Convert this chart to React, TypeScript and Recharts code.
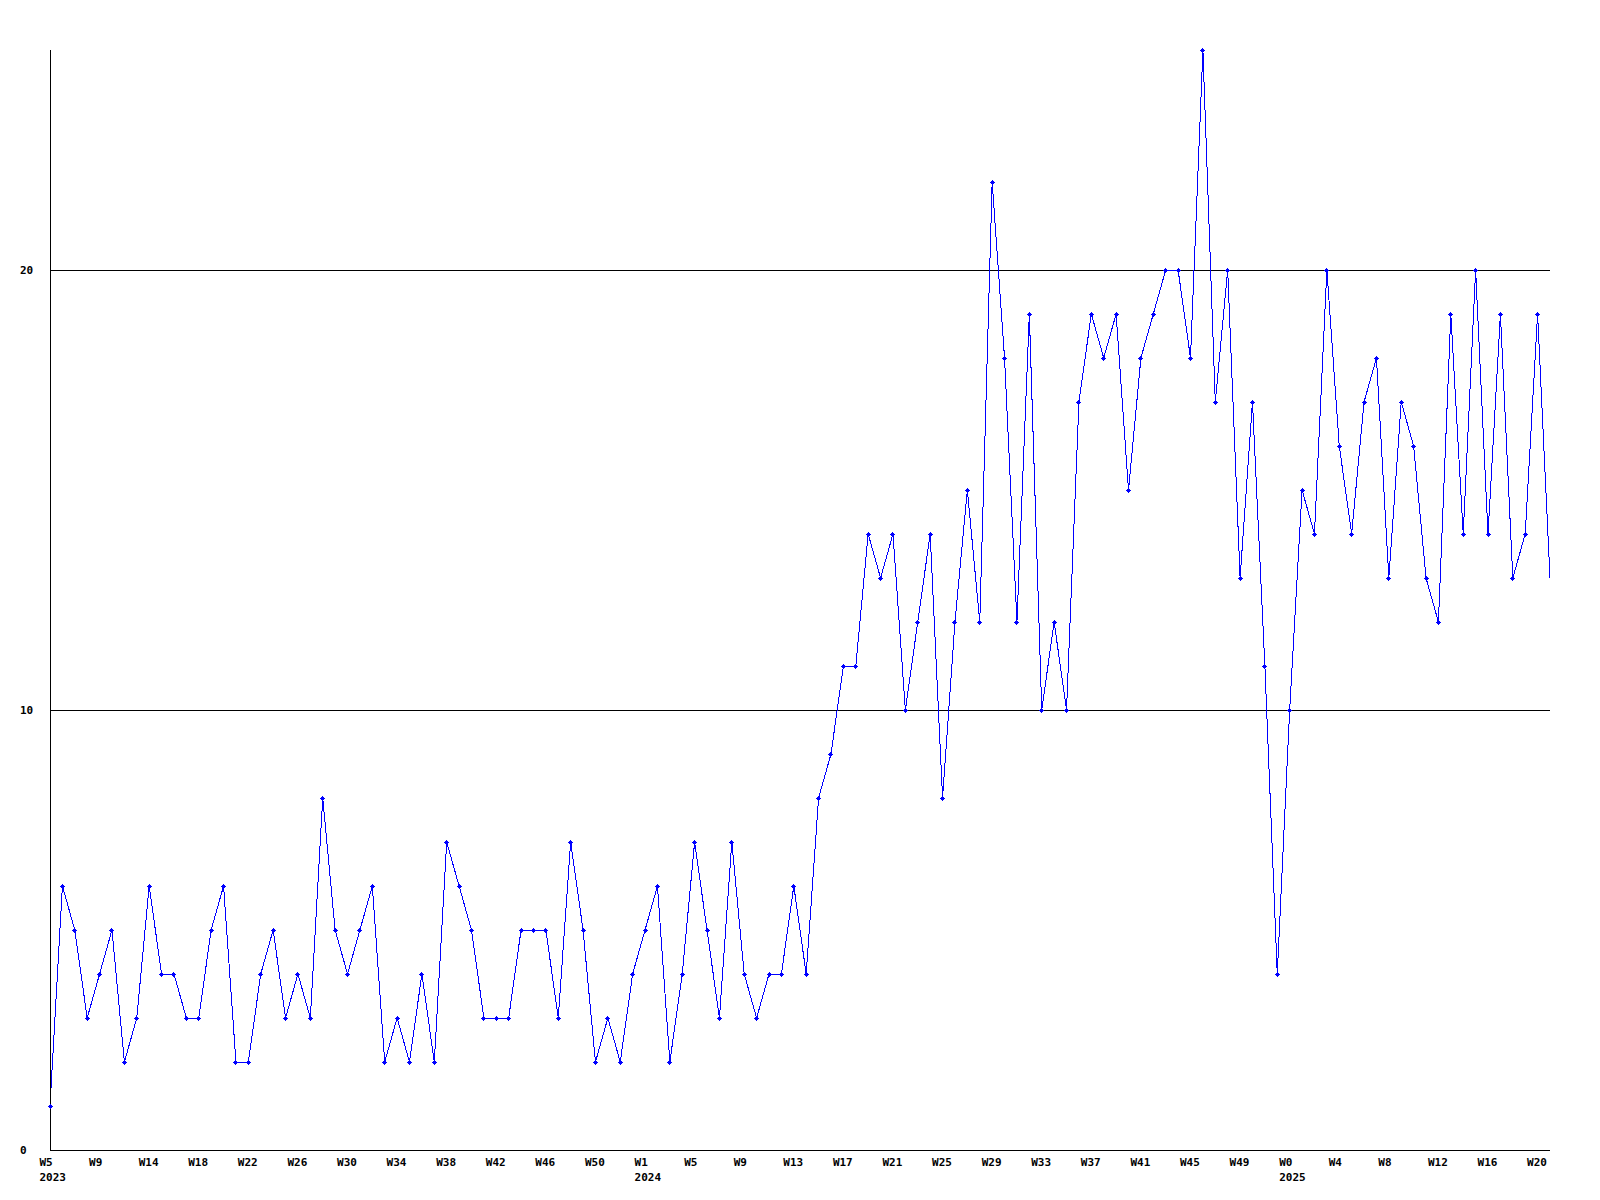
import React from 'react';
import { LineChart, Line, XAxis, YAxis, CartesianGrid } from 'recharts';

const values = [
  1, 6, 5, 3, 4, 5, 2, 3, 6, 4,
  4, 3, 3, 5, 6, 2, 2, 4, 5, 3,
  4, 3, 8, 5, 4, 5, 6, 2, 3, 2,
  4, 2, 7, 6, 5, 3, 3, 3, 5, 5,
  5, 3, 7, 5, 2, 3, 2, 4, 5, 6,
  2, 4, 7, 5, 3, 7, 4, 3, 4, 4,
  6, 4, 8, 9, 11, 11, 14, 13, 14, 10,
  12, 14, 8, 12, 15, 12, 22, 18, 12, 19,
  10, 12, 10, 17, 19, 18, 19, 15, 18, 19,
  20, 20, 18, 25, 17, 20, 13, 17, 11, 4,
  10, 15, 14, 20, 16, 14, 17, 18, 13, 17,
  16, 13, 12, 19, 14, 20, 14, 19, 13, 14,
  19, 13,
];

const xTicks = [0, 4, 8, 12, 16, 20, 24, 28, 32, 36, 40, 44, 48, 52, 56, 60, 64, 68, 72, 76, 80, 84, 88, 92, 96, 100, 104, 108, 112, 116, 120];
const xTickLabels = ['W5', 'W9', 'W14', 'W18', 'W22', 'W26', 'W30', 'W34', 'W38', 'W42', 'W46', 'W50', 'W1', 'W5', 'W9', 'W13', 'W17', 'W21', 'W25', 'W29', 'W33', 'W37', 'W41', 'W45', 'W49', 'W0', 'W4', 'W8', 'W12', 'W16', 'W20'];
const yearTickIndex = [0, 48, 100];
const yearNames = ['2023', '2024', '2025'];
const yTicks = [0, 10, 20];

const data = values.map((v, i) => ({ i, v }));
const lastIndex = values.length - 1;

const FONT = '"DejaVu Sans Mono", "Liberation Mono", monospace';

function XTick(props: any) {
  const { x, payload } = props;
  const idx = xTicks.indexOf(payload.value);
  const yi = yearTickIndex.indexOf(payload.value);
  return (
    <g>
      <text x={x - 10.5} y={1166} textAnchor="start" fontFamily={FONT} fontWeight="bold" fontSize={11} fill="#000">
        {xTickLabels[idx]}
      </text>
      {yi >= 0 && (
        <text x={x - 10.5} y={1181} textAnchor="start" fontFamily={FONT} fontWeight="bold" fontSize={11} fill="#000">
          {yearNames[yi]}
        </text>
      )}
    </g>
  );
}

function YTick(props: any) {
  const { y, payload } = props;
  return (
    <text x={20} y={y + 4} textAnchor="start" fontFamily={FONT} fontWeight="bold" fontSize={11} fill="#000">
      {payload.value}
    </text>
  );
}

function PlusDot(props: any) {
  const { cx, cy, index } = props;
  if (cx == null || cy == null || index === lastIndex) return <g key={`d${index}`} />;
  return (
    <path
      key={`d${index}`}
      d={`M${cx - 2.5},${cy - 0.5}h5v1h-5z M${cx - 0.5},${cy - 2.5}h1v5h-1z M${cx - 1.5},${cy - 1.5}h3v3h-3z`}
      fill="#0000ff"
    />
  );
}

export default function App() {
  return (
    <div style={{ position: 'absolute', left: 0, top: 0, width: 1600, height: 1200, background: '#fff' }}>
      <LineChart
        width={1600}
        height={1200}
        data={data}
        margin={{ top: 50, right: 50, bottom: 0, left: 0 }}
        style={{ shapeRendering: 'crispEdges' }}
      >
        <CartesianGrid vertical={false} horizontalValues={yTicks} stroke="#000" strokeWidth={1} />
        <XAxis
          type="number"
          dataKey="i"
          domain={[0, 121]}
          ticks={xTicks}
          interval={0}
          height={50}
          tickLine={false}
          axisLine={{ stroke: '#000', strokeWidth: 1 }}
          tick={<XTick />}
        />
        <YAxis
          type="number"
          domain={[0, 25]}
          ticks={yTicks}
          interval={0}
          width={50}
          tickLine={false}
          axisLine={{ stroke: '#000', strokeWidth: 1 }}
          tick={<YTick />}
        />
        <Line
          type="linear"
          dataKey="v"
          stroke="#0000ff"
          strokeWidth={1}
          dot={<PlusDot />}
          activeDot={false}
          isAnimationActive={false}
        />
      </LineChart>
    </div>
  );
}
